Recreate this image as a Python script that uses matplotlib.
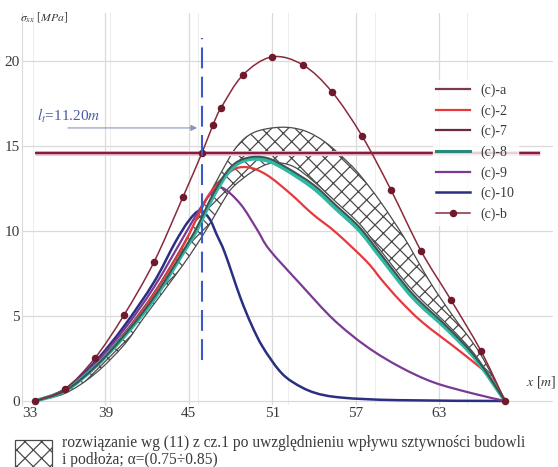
import numpy as np
import matplotlib
matplotlib.use("Agg")
import matplotlib.pyplot as plt
from matplotlib.path import Path
from matplotlib.patches import PathPatch, Rectangle
from matplotlib.lines import Line2D

plt.rcParams["font.family"] = ["Liberation Serif", "DejaVu Serif"]
plt.rcParams["mathtext.fontset"] = "stix"
plt.rcParams["hatch.linewidth"] = 0.9

# ---- data: stress sigma_xx [MPa] along x [m] ----
x_b = [33.94, 36.09, 38.25, 40.34, 42.50, 44.58, 45.95, 46.74, 47.32, 48.90,
       50.99, 53.22, 55.30, 57.46, 59.55, 61.71, 63.86, 66.02, 67.75]
y_b = [0.0, 0.71, 2.53, 5.06, 8.18, 12.0, 14.6, 16.24, 17.24, 19.18,
       20.24, 19.76, 18.18, 15.59, 12.4, 8.82, 5.94, 2.94, 0.0]

x_a = [33.94, 70.3]
y_a = [14.6, 14.6]

x_2 = [33.94, 36.09, 38.25, 40.34, 42.5, 44.58, 45.6, 46.5, 48.0, 49.2, 50.6,
       52.3, 53.9, 55.6, 57.8, 58.9, 60.2, 61.85, 64.7, 66.7, 67.75]
y_2 = [0, 0.6, 2.0, 3.9, 6.3, 9.1, 10.8, 12.2, 13.5, 13.75, 13.3,
       12.2, 11.0, 9.9, 8.2, 7.1, 5.9, 4.6, 2.8, 1.4, 0]

x_8 = [33.94, 36.09, 38.25, 40.34, 42.5, 44.58, 45.6, 46.8, 48.0, 49.2, 50.6,
       52.0, 54.0, 55.6, 57.3, 58.75, 61.1, 63.6, 65.7, 67.75]
y_8 = [0, 0.6, 2.0, 3.8, 6.0, 8.7, 10.1, 12.1, 13.6, 14.2, 14.15,
       13.6, 12.5, 11.3, 10.0, 8.5, 6.1, 4.2, 2.4, 0]

x_7 = [33.94, 36.09, 38.25, 40.34, 42.5, 44.58, 45.6, 46.8, 48.0, 49.2, 50.6,
       52.0, 54.0, 55.6, 57.3, 58.75, 61.1, 63.6, 65.7, 67.75]
y_7 = [0, 0.6, 2.0, 3.85, 6.1, 8.8, 10.25, 12.25, 13.75, 14.3, 14.3,
       13.75, 12.7, 11.5, 10.2, 8.7, 6.3, 4.35, 2.5, 0]

x_9 = [33.94, 36.1, 38.25, 40.34, 42.5, 44.58, 45.8, 46.6, 47.37, 48.7, 49.9,
       50.8, 53.0, 55.4, 57.8, 60.2, 62.6, 65.4, 67.75]
y_9 = [0, 0.65, 2.2, 4.2, 6.7, 9.6, 11.3, 12.2, 12.55, 11.6, 10.1,
       8.9, 6.9, 4.8, 3.2, 2.0, 1.1, 0.45, 0]

x_10 = [33.94, 36.1, 38.25, 40.34, 42.5, 44.0, 45.0, 45.8, 46.5, 47.0, 47.6,
        48.7, 49.5, 50.3, 51.5, 52.5, 54.0, 56.0, 60.0, 67.75]
y_10 = [0, 0.7, 2.3, 4.4, 7.0, 9.3, 10.6, 11.2, 10.7, 9.8, 8.7,
        6.1, 4.5, 3.2, 1.8, 1.1, 0.5, 0.2, 0.05, 0]

# envelope of the solution with alpha = 0.75 ... 0.85
x_low = [33.94, 36.09, 38.25, 40.34, 41.85, 44.58, 46.2, 47.5, 48.2, 49.6, 51.0,
         52.5, 54.0, 55.6, 57.3, 58.75, 61.1, 63.6, 65.7, 67.75]
y_low = [0, 0.45, 1.6, 3.3, 5.0, 8.0, 10.0, 11.8, 12.6, 13.5, 14.0,
         13.8, 12.9, 11.7, 10.4, 8.9, 6.5, 4.5, 2.6, 0]
x_up = [33.94, 36.09, 38.25, 40.34, 42.5, 44.58, 46.0, 47.3, 48.45, 49.7, 51.6,
        53.3, 54.85, 56.5, 57.4, 58.8, 60.5, 62.35, 64.0, 65.95, 67.75]
y_up = [0, 0.65, 2.1, 4.0, 6.4, 9.2, 11.4, 13.4, 14.96, 15.8, 16.1,
        15.9, 15.2, 14.0, 13.2, 11.7, 9.6, 7.0, 5.0, 2.8, 0]

x_dash = [45.95, 45.95]
y_dash = [2.4, 21.35]

x_ticks = [33, 39, 45, 51, 57, 63]
y_ticks = [0, 5, 10, 15, 20]
legend_labels = ["(c)-a", "(c)-2", "(c)-7", "(c)-8", "(c)-9", "(c)-10", "(c)-b"]


def smooth_chain(xs, ys):
    """Catmull-Rom style cubic Bezier chain through the given points."""
    p = np.column_stack([xs, ys]).astype(float)
    n = len(p)
    verts = [p[0]]
    codes = [Path.MOVETO]
    for i in range(n - 1):
        p0 = p[i - 1] if i > 0 else p[i]
        p1, p2 = p[i], p[i + 1]
        p3 = p[i + 2] if i + 2 < n else p[i + 1]
        verts += [p1 + (p2 - p0) / 6.0, p2 - (p3 - p1) / 6.0, p2]
        codes += [Path.CURVE4] * 3
    return np.array(verts), codes


def smooth_line(ax, xs, ys, color, lw, z, alpha=1.0):
    v, c = smooth_chain(xs, ys)
    ax.add_patch(PathPatch(Path(v, c), fill=False, edgecolor=color, lw=lw,
                           zorder=z, alpha=alpha, capstyle="round",
                           joinstyle="round"))


W, H = 558, 467
fig = plt.figure(figsize=(W / 100, H / 100), dpi=100)
ax = fig.add_axes([22 / W, (H - 405) / H, (553 - 22) / W, (405 - 13) / H])
ax.set_xlim(33, 71.2)
ax.set_ylim(-0.235, 22.82)

# grid
grid_c = "#dadada"
for xv in x_ticks[1:]:
    ax.axvline(xv, color=grid_c, lw=0.9, zorder=0)
for xv in [33.8, 39.35, 45.65, 52.1, 58.4, 65.0]:
    ax.axvline(xv, color="#ededed", lw=0.8, zorder=0)
for yv in y_ticks:
    ax.axhline(yv, color=grid_c, lw=0.9, zorder=0)
for s in ["top", "right", "bottom"]:
    ax.spines[s].set_visible(False)
ax.spines["left"].set_color(grid_c)

ax.set_xticks(x_ticks)
ax.set_xticklabels([str(v) for v in x_ticks])
ax.set_yticks(y_ticks)
ax.set_yticklabels([str(v) for v in y_ticks])
ax.tick_params(length=0, labelsize=11, colors="#3a3a3a")
ax.tick_params(axis="x", pad=1.5)
ax.tick_params(axis="y", pad=1.5)
ax.get_xticklabels()[0].set_horizontalalignment("left")

# hatched envelope
vu, cu = smooth_chain(x_up, y_up)
vl, cl = smooth_chain(x_low, y_low)
band_v = np.vstack([vu, vl[::-1][1:], vu[:1]])
band_c = cu + [Path.CURVE4] * (len(vl) - 1) + [Path.CLOSEPOLY]
ax.add_patch(PathPatch(Path(band_v, band_c), facecolor="white",
                       edgecolor="#4a4a4a", hatch="xx", lw=0.9, zorder=2))

# curves
ax.plot(x_a, y_a, color="#f2c4d2", lw=3.6, zorder=3, solid_capstyle="butt")
ax.plot(x_a, y_a, color="#861c3e", lw=1.7, zorder=3.1, solid_capstyle="butt")
smooth_line(ax, x_10, y_10, "#2b2f82", 1.8, 4)
smooth_line(ax, x_9, y_9, "#7a3a94", 1.6, 4)
smooth_line(ax, x_2, y_2, "#e8383c", 1.6, 4)
smooth_line(ax, x_8, y_8, "#2fb8a4", 2.8, 4.1)
smooth_line(ax, x_7, y_7, "#3e5250", 1.4, 4.2)
smooth_line(ax, x_b, y_b, "#8a2a3c", 1.1, 5)
ax.plot(x_b, y_b, ls="none", marker="o", ms=4.4, color="#6e1a2c", zorder=5.1)

# l_t marker
ax.plot(x_dash, y_dash, color="#3a5ac8", lw=1.5, dashes=(10, 4), zorder=6)
ax.annotate("", xy=(45.8, 16.06), xytext=(36.1, 16.06),
            arrowprops=dict(arrowstyle="-|>", color="#8a96b8", lw=0.8,
                            mutation_scale=9), zorder=6)
ax.text(34.1, 16.76, r"$l_t$=11.20$m$", color="#4a5aa8", fontsize=11,
        ha="left", va="center")

# legend
handles = [
    Line2D([], [], color="#7a3a50", lw=1.6),
    Line2D([], [], color="#e8383c", lw=1.6),
    Line2D([], [], color="#6a2a3a", lw=1.6),
    Line2D([], [], color="#2a8a7a", lw=2.2),
    Line2D([], [], color="#7a3a94", lw=1.6),
    Line2D([], [], color="#2b2f82", lw=1.8),
    Line2D([], [], color="#8a2a3c", lw=1.1, marker="o", ms=4.4,
           markerfacecolor="#6e1a2c", markeredgecolor="#6e1a2c"),
]
leg = fig.legend(handles, legend_labels, loc="upper left",
                 bbox_to_anchor=(433 / W, 1 - 80 / H), frameon=True,
                 fontsize=10, labelspacing=0.52, handlelength=2.4,
                 handletextpad=0.75, borderpad=0.25, borderaxespad=0)
leg.get_frame().set_facecolor("white")
leg.get_frame().set_edgecolor("white")
leg.set_zorder(7)
for t in leg.get_texts():
    t.set_color("#3a3a3a")

# axis titles
fig.text(20 / W, 1 - 17 / H, r"$\sigma_{xx}$ [$MPa$]", fontsize=8.5,
         color="#3a3a3a", va="center", ha="left")
fig.text(526 / W, 1 - 382 / H, r"$x$ [$m$]", fontsize=10,
         color="#3a3a3a", va="center", ha="left")

# envelope key below the chart
fig.patches.append(Rectangle((15 / W, -5 / H), 37 / W, 32 / H,
                             transform=fig.transFigure, facecolor="white",
                             edgecolor="#4a4a4a", hatch="xx", lw=0.9))
fig.text(62 / W, 1 - 443 / H,
         "rozwiązanie wg (11) z cz.1 po uwzględnieniu wpływu sztywności budowli",
         fontsize=11.2, color="#3a3a3a", va="center", ha="left")
fig.text(62 / W, 1 - 460 / H, "i podłoża; α=(0.75÷0.85)",
         fontsize=11.2, color="#3a3a3a", va="center", ha="left")

fig.savefig("out.png", dpi=100)
